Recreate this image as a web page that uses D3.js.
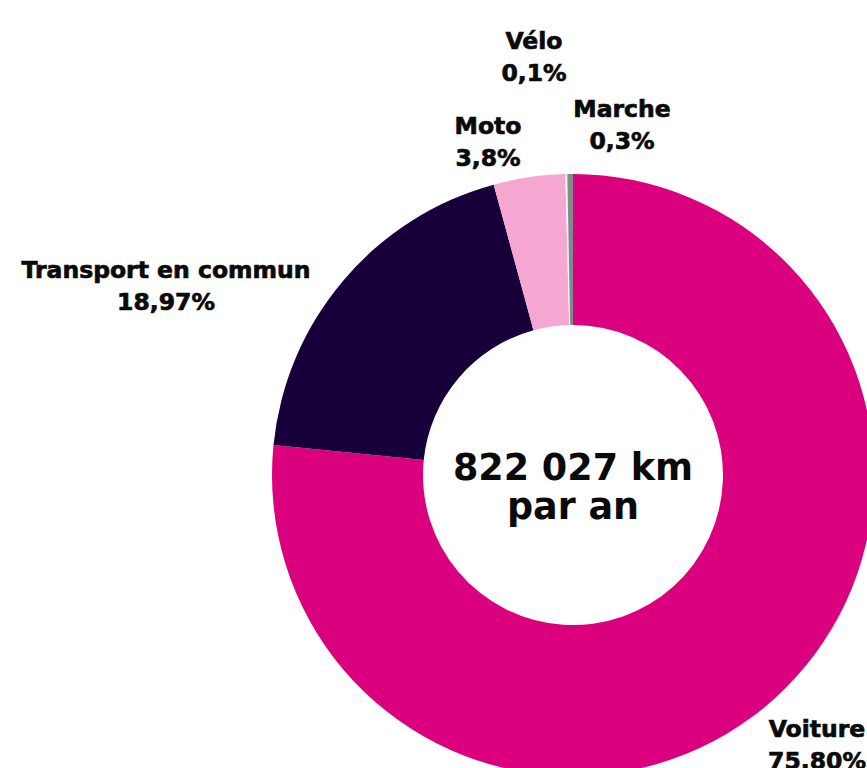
<!DOCTYPE html>
<html>
<head>
<meta charset="utf-8">
<script src="https://cdn.jsdelivr.net/npm/d3@7"></script>
<style>
  html, body { margin: 0; padding: 0; background: #fff; overflow: hidden; }
  text { font-family: "DejaVu Sans", sans-serif; font-weight: bold; fill: #0a0a0a; }
  text.lbl { stroke: #0a0a0a; stroke-width: 0.7px; }
</style>
</head>
<body>
<div id="chart"></div>
<script>
// modes de transport, dans l'ordre horaire depuis midi
const categories = ['Voiture', 'Transport en commun', 'Moto', 'Vélo', 'Marche'];
const values = [75.80, 18.97, 3.8, 0.1, 0.3];
const valueLabels = ['75,80%', '18,97%', '3,8%', '0,1%', '0,3%'];
const colors = ['#db007e', '#170039', '#f5a6d1', '#f4f4f4', '#7f8b8b'];
const centerLines = ['822 027 km', 'par an'];

// label anchors placed by hand, like in the original layout
const labelAnchors = [[817, 737], [166, 278], [488, 134], [534, 49], [622, 117]];

const width = 867, height = 768;
const cx = 573, cy = 475;
const outerR = 301, innerR = 150;

const svg = d3.select('#chart').
  append('svg').
  attr('width', width).
  attr('height', height);

const g = svg.append('g').attr('transform', 'translate(' + cx + ',' + cy + ')');

const data = categories.map((c, i) => ({ name: c, value: values[i], label: valueLabels[i], color: colors[i] }));

const pie = d3.pie().sort(null).value(d => d.value);
const arc = d3.arc().innerRadius(innerR).outerRadius(outerR);

g.selectAll('path.slice').
  data(pie(data)).
  enter().append('path').
    attr('class', 'slice').
    attr('d', arc).
    attr('fill', d => d.data.color);

// center total
const center = svg.append('text').
  attr('text-anchor', 'middle').
  style('font-size', '36.5px');
centerLines.forEach((line, i) => {
  center.append('tspan').
    attr('x', cx).
    attr('y', 480 + i * 39).
    text(line);
});

// slice labels
const labels = svg.selectAll('text.lbl').
  data(data).
  enter().append('text').
    attr('class', 'lbl').
    attr('text-anchor', 'middle').
    style('font-size', '23.5px');

labels.append('tspan').
  attr('x', (d, i) => labelAnchors[i][0]).
  attr('y', (d, i) => labelAnchors[i][1]).
  text(d => d.name);
labels.append('tspan').
  attr('x', (d, i) => labelAnchors[i][0]).
  attr('y', (d, i) => labelAnchors[i][1] + 32).
  text(d => d.label);
</script>
</body>
</html>
